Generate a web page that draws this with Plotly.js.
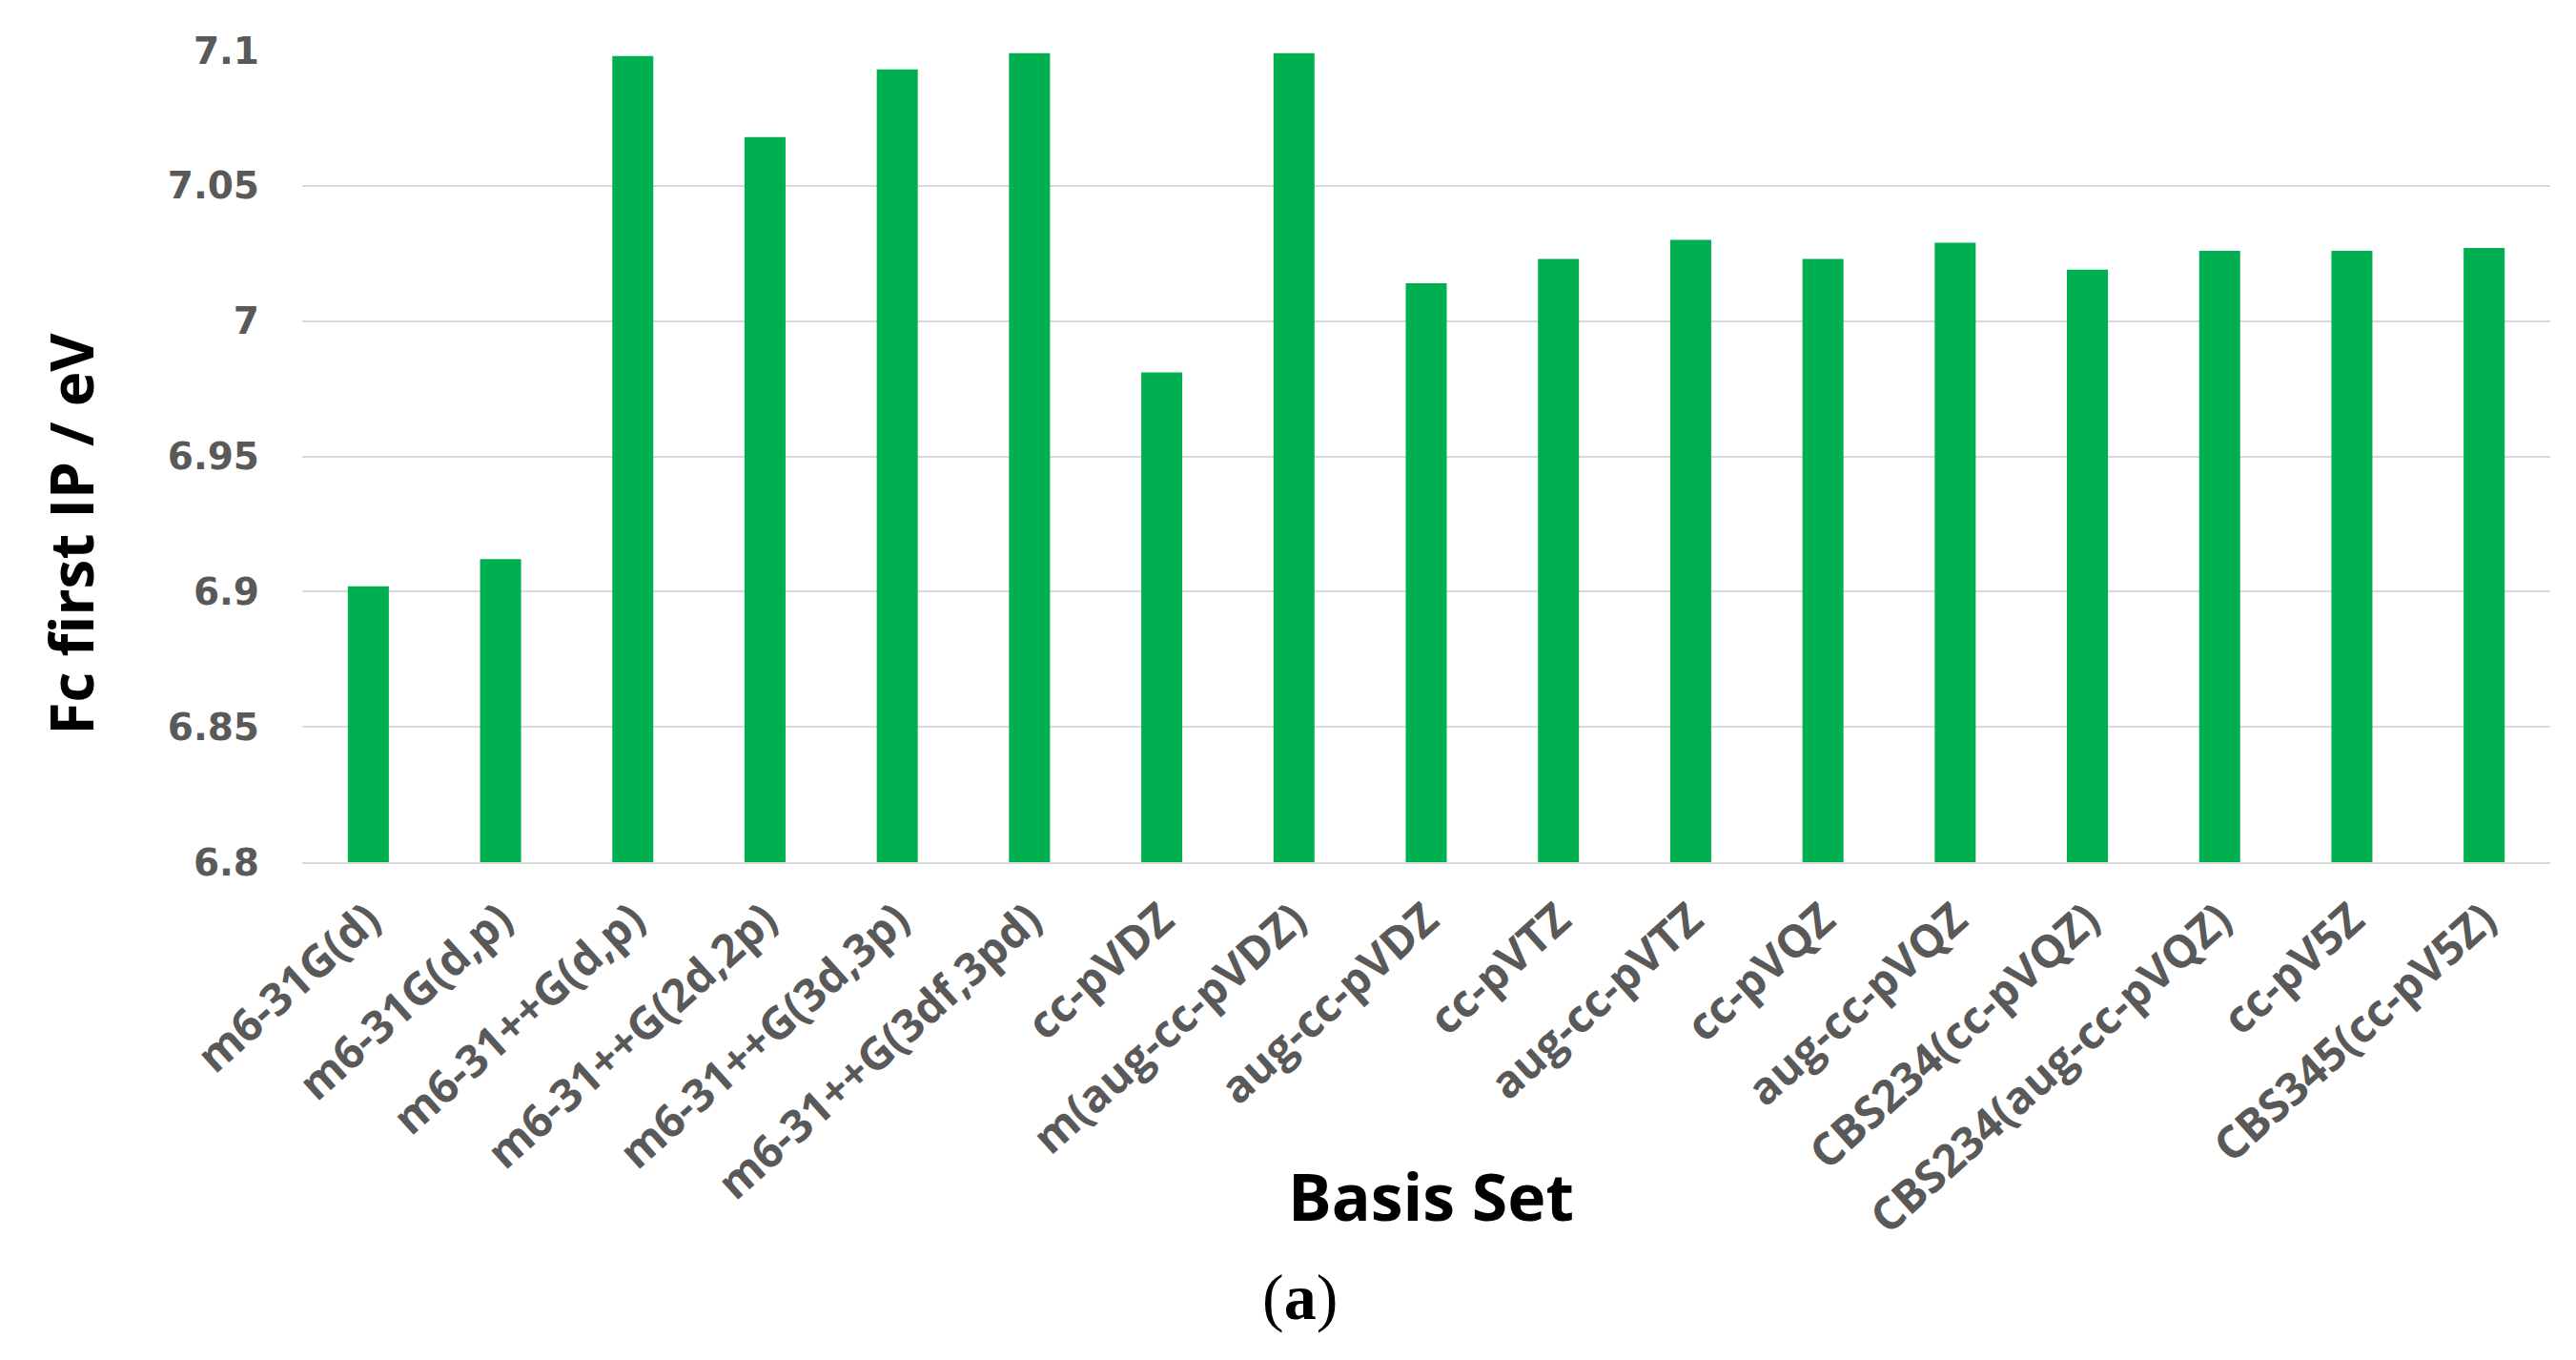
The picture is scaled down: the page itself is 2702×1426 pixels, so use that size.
<!DOCTYPE html>
<html>
<head>
<meta charset="utf-8">
<script src="https://cdn.plot.ly/plotly-3.0.1.min.js"></script>
<style>html,body{margin:0;padding:0;background:#fff;}</style>
</head>
<body>
<div id="chart" style="width:2702px;height:1426px;"></div>
<script>
const categories = ["m6-31G(d)", "m6-31G(d,p)", "m6-31++G(d,p)", "m6-31++G(2d,2p)", "m6-31++G(3d,3p)", "m6-31++G(3df,3pd)", "cc-pVDZ", "m(aug-cc-pVDZ)", "aug-cc-pVDZ", "cc-pVTZ", "aug-cc-pVTZ", "cc-pVQZ", "aug-cc-pVQZ", "CBS234(cc-pVQZ)", "CBS234(aug-cc-pVQZ)", "cc-pV5Z", "CBS345(cc-pV5Z)"];
const ipValues = [6.902, 6.912, 7.098, 7.068, 7.093, 7.099, 6.981, 7.099, 7.014, 7.023, 7.030, 7.023, 7.029, 7.019, 7.026, 7.026, 7.027];
const yTicks = [6.8, 6.85, 6.9, 6.95, 7.0, 7.05, 7.1];
const yTickText = ["6.8", "6.85", "6.9", "6.95", "7", "7.05", "7.1"];

const trace = {
  type: "bar",
  x: categories,
  y: ipValues,
  marker: {color: "#00B050", line: {width: 0}},
  width: 0.31,
  hoverinfo: "x+y"
};

const layout = {
  width: 2702,
  height: 1426,
  margin: {l: 317, r: 27, t: 53, b: 522},
  paper_bgcolor: "#ffffff",
  plot_bgcolor: "#ffffff",
  showlegend: false,
  xaxis: {
    type: "category",
    tickangle: -42,
    tickfont: {family: "Open Sans", size: 47, color: "#595959", weight: "bold"},
    ticks: "",
    ticklabelstandoff: 12,
    showgrid: false,
    showline: true,
    linecolor: "#d9d9d9",
    linewidth: 2,
    zeroline: false
  },
  yaxis: {
    range: [6.8, 7.1],
    tickvals: yTicks,
    ticktext: yTickText,
    tickfont: {family: "DejaVu Sans", size: 39, color: "#595959", weight: "bold"},
    ticks: "",
    ticklabelstandoff: 44,
    showgrid: true,
    gridcolor: "#d9d9d9",
    gridwidth: 2,
    zeroline: false,
    showline: false
  },
  annotations: [
    {text: "<b>Fc first IP / eV</b>", xref: "paper", yref: "paper", x: -0.103, y: 0.405, xanchor: "center", yanchor: "middle", textangle: -90, showarrow: false, font: {family: "Open Sans", size: 62, color: "#000000"}},
    {text: "<b>Basis Set</b>", xref: "paper", yref: "paper", x: 0.502, y: -0.411, xanchor: "center", yanchor: "middle", showarrow: false, font: {family: "Open Sans", size: 68, color: "#000000"}},
    {text: "(<b>a</b>)", xref: "paper", yref: "paper", x: 0.444, y: -0.536, xanchor: "center", yanchor: "middle", showarrow: false, font: {family: "Liberation Serif", size: 68, color: "#000000"}}
  ]
};

Plotly.newPlot("chart", [trace], layout, {staticPlot: true, displayModeBar: false});
</script>
</body>
</html>
